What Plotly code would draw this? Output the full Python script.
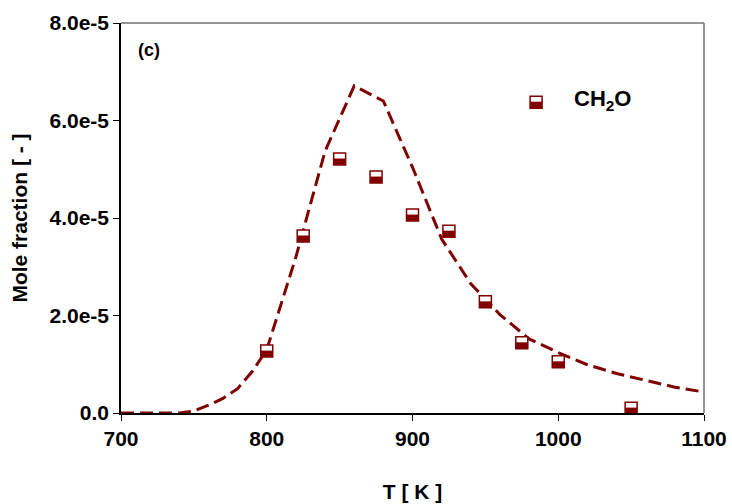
import plotly.graph_objects as go

# Model curve (dashed)
T_model = [700, 720, 740, 750, 760, 770, 780, 790, 800, 820, 840, 860, 880, 900, 920, 940, 960, 980, 1000, 1020, 1040, 1060, 1080, 1100]
X_model = [0.0, 0.0, 0.0, 0.04, 0.16, 0.3, 0.5, 0.85, 1.3, 3.2, 5.37, 6.71, 6.40, 5.04, 3.57, 2.65, 2.02, 1.52, 1.24, 0.99, 0.81, 0.67, 0.53, 0.43]
X_model = [v * 1e-5 for v in X_model]

# Experimental points
T_exp = [800, 825, 850, 875, 900, 925, 950, 975, 1000, 1050]
X_exp = [1.27, 3.63, 5.21, 4.84, 4.06, 3.73, 2.28, 1.44, 1.05, 0.10]
X_exp = [v * 1e-5 for v in X_exp]

x_ticks = [700, 800, 900, 1000, 1100]
y_ticks = [0, 2e-5, 4e-5, 6e-5, 8e-5]
y_ticktext = ["0.0", "2.0e-5", "4.0e-5", "6.0e-5", "8.0e-5"]

species = "CH<sub>2</sub>O"
panel = "(c)"

RED = "#800000"
FONT = "Liberation Sans, Arial, sans-serif"

fig = go.Figure()
fig.add_trace(go.Scatter(
    x=T_model, y=X_model, mode="lines",
    line=dict(color=RED, width=3, dash="13px,6px"),
    showlegend=False, hoverinfo="skip"))
fig.add_trace(go.Scatter(
    x=T_exp, y=X_exp, mode="markers",
    marker=dict(symbol="square", size=12, color="white", line=dict(color=RED, width=1.5)),
    showlegend=False))

shapes = []
half = 6
for t, v in zip(T_exp, X_exp):
    shapes.append(dict(type="rect", xref="x", yref="y", xsizemode="pixel", ysizemode="pixel",
                       xanchor=t, yanchor=v, x0=-half, x1=half, y0=-half, y1=0.5,
                       fillcolor=RED, line=dict(width=0), layer="above"))

# legend symbol
lx, ly = 0.712, 0.797
shapes.append(dict(type="rect", xref="paper", yref="paper", xsizemode="pixel", ysizemode="pixel",
                   xanchor=lx, yanchor=ly, x0=-half, x1=half, y0=-half, y1=half,
                   fillcolor="white", line=dict(color=RED, width=1.5), layer="above"))
shapes.append(dict(type="rect", xref="paper", yref="paper", xsizemode="pixel", ysizemode="pixel",
                   xanchor=lx, yanchor=ly, x0=-half, x1=half, y0=-half, y1=0.5,
                   fillcolor=RED, line=dict(width=0), layer="above"))

# grey top and right frame
shapes.append(dict(type="line", xref="paper", yref="paper", x0=0, x1=1, y0=1, y1=1,
                   line=dict(color="#707070", width=1.5)))
shapes.append(dict(type="line", xref="paper", yref="paper", x0=1, x1=1, y0=0, y1=1,
                   line=dict(color="#707070", width=1.5)))

annotations = [
    dict(xref="paper", yref="paper", x=0.7736, y=0.803, text="<b>" + species + "</b>",
         showarrow=False, xanchor="left", yanchor="middle",
         font=dict(family=FONT, size=22, color="black")),
    dict(xref="paper", yref="paper", x=0.025, y=0.93, text="<b>" + panel + "</b>",
         showarrow=False, xanchor="left", yanchor="middle",
         font=dict(family=FONT, size=18, color="black")),
]

fig.update_layout(
    width=732, height=504,
    margin=dict(l=121, r=28, t=23, b=91, autoexpand=False),
    paper_bgcolor="white", plot_bgcolor="white",
    showlegend=False,
    shapes=shapes, annotations=annotations,
    font=dict(family=FONT, color="black"),
    xaxis=dict(range=[700, 1100], tickvals=x_ticks, ticks="outside", ticklen=6, tickwidth=1.2,
               tickcolor="black", showline=True, linecolor="black", linewidth=1.5,
               showgrid=False, zeroline=False, automargin=False,
               tickfont=dict(family=FONT, size=21, color="black", weight="bold"),
               title=dict(text="<b>T [ K ]</b>", font=dict(family=FONT, size=21), standoff=35)),
    yaxis=dict(range=[0, 8e-5], tickvals=y_ticks, ticktext=y_ticktext, ticks="outside", ticklen=6,
               tickwidth=1.2, tickcolor="black", showline=True, linecolor="black", linewidth=1.5,
               showgrid=False, zeroline=False, automargin=False,
               tickfont=dict(family=FONT, size=21, color="black", weight="bold"),
               title=dict(text="<b>Mole fraction [ - ]</b>", font=dict(family=FONT, size=21), standoff=16)),
)

fig.write_html("out.html")
